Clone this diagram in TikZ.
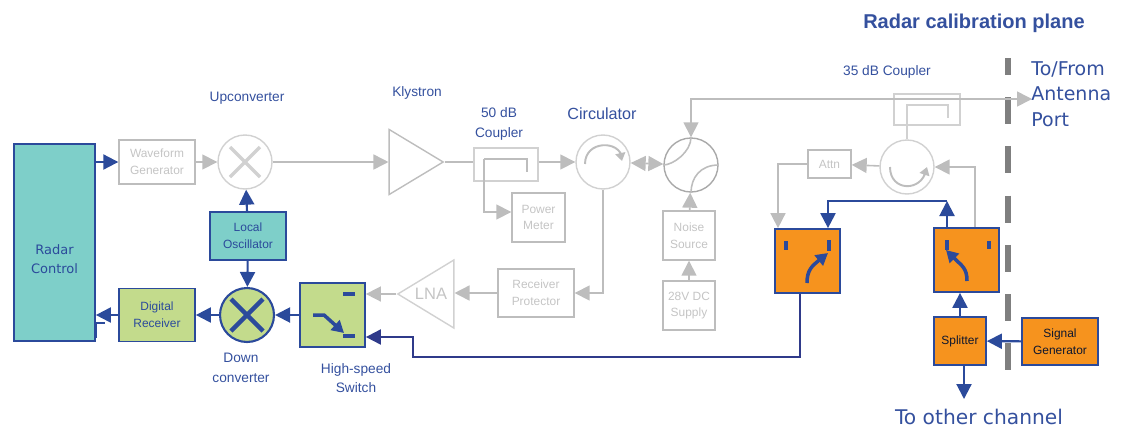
\documentclass[tikz,border=0pt]{standalone}
\usepackage{fontspec}
\setmainfont{Liberation Sans}
\newfontfamily\verafont{DejaVu Sans}
\usetikzlibrary{arrows.meta,positioning,shapes.geometric}
\definecolor{rblue}{HTML}{2B4A9B}
\definecolor{rnavy}{HTML}{2F3A8A}
\definecolor{rlabel}{HTML}{34509E}
\definecolor{rgrey}{HTML}{BDBDBD}
\definecolor{rtext}{HTML}{C4C4C4}
\definecolor{rteal}{HTML}{7ECFC9}
\definecolor{rgreen}{HTML}{C3DB8C}
\definecolor{rorange}{HTML}{F6931E}
\definecolor{rdash}{HTML}{7F7F7F}
\tikzset{
  >={Triangle[length=3mm,width=3mm]},
  gbox/.style={draw=rgrey, line width=0.8pt, text=rtext, font=\fontsize{6.8}{9.5}\selectfont,
               align=center, inner sep=0pt},
  cbox/.style={draw=rblue, line width=1pt, text=rblue, font=\fontsize{6.8}{9.5}\selectfont,
               align=center, inner sep=0pt},
  gcirc/.style={circle, draw=rgrey!70, line width=0.8pt, minimum size=10.8mm, inner sep=0pt},
  gline/.style={rgrey, line width=0.9pt},
  garr/.style={->, rgrey, line width=0.9pt},
  barr/.style={->, rblue, line width=1.2pt},
  nline/.style={rnavy, line width=1.1pt},
  blade/.style={rblue, line width=2pt},
  rlbl/.style={text=rlabel, font=\fontsize{7.8}{11}\selectfont, align=center, inner sep=0pt},
  vlbl/.style={text=rlabel, font=\verafont\fontsize{10.8}{14.6}\selectfont, align=left, inner sep=0pt},
  swbox/.style={cbox, minimum width=13mm, minimum height=12.8mm},
}

\begin{document}
\begin{tikzpicture}[x=0.02cm,y=-0.02cm]
  \useasboundingbox (0,0) rectangle (1125,430);

  % plano de calibracao
  \coordinate (planetop) at (1008,58);
  \coordinate (planebot) at (1008,372);
  \draw[rdash, line width=1.2mm, dash pattern=on 5.4mm off 4.45mm, dash phase=2mm] (planetop) -- (planebot);

  % blocos de controle
  \node[cbox, fill=rteal, minimum width=16.2mm, minimum height=39.4mm,
        font=\verafont\fontsize{7.4}{10.5}\selectfont] (ctrl) at (54.5,242.5) {~\\[14.3pt]Radar\\Control};
  \node[gbox, minimum width=15.2mm, minimum height=8.8mm] (wave) at (157,162) {Waveform\\Generator};
  \node[cbox, fill=rteal, minimum width=15.2mm, minimum height=9.6mm] (lo) at (248,236) {Local\\Oscillator};
  \node[cbox, fill=rgreen, minimum width=15.2mm, minimum height=10.6mm] (digrx) at (157,315) {Digital\\Receiver};
  \node[swbox, fill=rgreen] (hsw) at (332.5,315) {};

  % misturadores
  \node[gcirc] (upmix) at (245,162) {};
  \node[gcirc, draw=rblue, line width=1.2pt, fill=rgreen] (dnmix) at (247,315) {};
  \draw[rgrey!70, line width=2pt] ([shift={(-15,-15)}]upmix.center) -- ([shift={(15,15)}]upmix.center);
  \draw[rgrey!70, line width=2pt] ([shift={(-15,15)}]upmix.center) -- ([shift={(15,-15)}]upmix.center);
  \draw[blade, line width=2.6pt] ([shift={(-16,-16)}]dnmix.center) -- ([shift={(16,16)}]dnmix.center);
  \draw[blade, line width=2.6pt] ([shift={(-16,16)}]dnmix.center) -- ([shift={(16,-16)}]dnmix.center);

  % amplificadores
  \node[isosceles triangle, isosceles triangle stretches, draw=rgrey, line width=0.8pt, inner sep=0pt,
        minimum width=13mm, minimum height=10.8mm, anchor=apex] (kly) at (445,162) {};
  \node[isosceles triangle, isosceles triangle stretches, shape border rotate=180, draw=rgrey!70, line width=0.8pt,
        inner sep=0pt, minimum width=13.6mm, minimum height=11.2mm, anchor=apex, text=rtext,
        font=\fontsize{9}{9}\selectfont] (lna) at (396,294) {};
  \node[text=rtext, font=\fontsize{9.4}{9}\selectfont, inner sep=0pt] (lnatxt) at (431,294) {LNA};

  % blocos cinza
  \node[gbox, draw=rgrey!70, minimum width=12.8mm, minimum height=6.6mm] (cpl50) at (506,164.5) {};
  \node[gbox, minimum width=10.6mm, minimum height=9.8mm] (pwr) at (538.5,217.5) {Power\\Meter};
  \node[gcirc] (circ) at (603,162) {};
  \node[gcirc, draw=rgrey!130] (hyb) at (691,165) {};
  \node[gbox, minimum width=10.4mm, minimum height=9.8mm] (noise) at (689,235.5) {Noise\\Source};
  \node[gbox, minimum width=10.4mm, minimum height=9.8mm] (supply) at (689,305.5) {28V DC\\Supply};
  \node[gbox, minimum width=15.2mm, minimum height=9.6mm] (prot) at (536,293) {Receiver\\Protector};
  \node[gbox, draw=rgrey!70, minimum width=13.2mm, minimum height=6.2mm] (cpl35) at (927,109.5) {};
  \node[gcirc] (circb) at (907,167) {};
  \node[gbox, minimum width=8.6mm, minimum height=5.6mm] (attn) at (829.5,164) {Attn};

  % chaves e fonte de teste
  \node[swbox, fill=rorange] (swl) at (807.5,261) {};
  \node[swbox, fill=rorange] (swr) at (966.5,260) {};
  \node[cbox, fill=rorange, text=black!70!rblue, minimum width=10.4mm, minimum height=9.6mm] (split) at (960,341) {Splitter};
  \node[cbox, fill=rorange, text=black!70!rblue, minimum width=15.2mm, minimum height=9.4mm] (siggen) at (1060,341.5) {Signal\\Generator};

  % pontos livres
  \coordinate (antport) at (1032,99);
  \coordinate (otherch) at (964,399);

  % ligacoes cinza
  \draw[garr] (wave) -- (upmix);
  \draw[garr] (upmix) -- (kly.lower side);
  \draw[gline] (kly.apex) -- (cpl50.west |- kly.apex);
  \draw[garr] (cpl50.east |- circ) -- (circ);
  \draw[garr] (484,159) -- (484,212) -- (pwr.west |- 484,212);
  \draw[gline] (484,159) -- (527,159) -- (527,172);
  \draw[<->, rgrey, line width=0.9pt] (circ) -- (hyb);
  \draw[garr] (circ.south) |- (prot);
  \draw[garr] (prot) -- (lna.lower side |- prot);
  \draw[garr] (lna.apex) -- (hsw.east |- lna.apex);
  \draw[garr] (supply) -- (noise);
  \draw[garr] (noise) -- (hyb);
  \draw[<->, rgrey, line width=0.9pt] (hyb.north) |- (antport);
  \draw[gline] (hyb.west) .. controls (673,165) and (691,152) .. (hyb.north);
  \draw[gline] (hyb.east) .. controls (700,165) and (691,178) .. (hyb.south);
  \draw[gline, rgrey!70] (circb.north) -- (907,105) -- (948,105) -- (948,118);
  \draw[garr] (circb) -- (attn);
  \draw[garr] (attn.west) -| (swl.north -| 778,0);
  \draw[garr] (swr.north -| 975,0) |- (circb);
  \draw[gline, line width=1.1pt] (585,164) .. controls (585,140) and (620,140) .. (622,158);
  \draw[garr, line width=1.1pt, >={Triangle[length=1.6mm,width=2mm]}] (620,152) -- (622,161);
  \draw[gline, line width=1.1pt] (890,167) .. controls (890,192) and (922,192) .. (926,170);
  \draw[garr, line width=1.1pt, >={Triangle[length=1.6mm,width=2mm]}] (924,176) -- (927,167);

  % ligacoes azuis
  \draw[barr] (ctrl.east |- wave) -- (wave);
  \draw[barr] (lo) -- (upmix);
  \draw[barr] (lo) -- (dnmix);
  \draw[barr] (dnmix) -- (digrx);
  \draw[barr] (digrx) -- (ctrl.east |- digrx);
  \draw[rblue, line width=1pt] (96,338) -- (96,323) -- (105,323);
  \draw[barr] (hsw) -- (dnmix);
  \draw[nline, ->] (swl.south -| 800,0) |- (413,357) -- (413,337) -- (hsw.east |- 413,337);
  \draw[barr] (swr.north -| 947,0) -- (947,201);
  \draw[barr] (947,201) -| (swl.north -| 828,0);
  \draw[barr] (split.north -| 960,0) -- (swr.south -| 960,0);
  \draw[barr] (siggen) -- (split);
  \draw[barr] (split.south -| 964,0) -- (otherch);

  % simbolos das chaves
  \draw[blade, line width=2.2pt] (343,294) -- (355,294);
  \draw[blade, line width=2.2pt] (343,336) -- (355,336);
  \draw[blade, ->, >={Triangle[length=2.4mm,width=2.6mm]}] (313,315) -- (324,315) -- (344,333);
  \draw[blade, line width=2.4pt] (786,241) -- (786,250);
  \draw[blade, line width=2.4pt] (829,240) -- (829,251);
  \draw[blade, ->, >={Triangle[length=2.4mm,width=2.6mm]}] (807,283) .. controls (807,270) and (812,266) .. (828,253);
  \draw[blade, line width=2.4pt] (947,240) -- (947,250);
  \draw[blade, line width=2.4pt] (989,241) -- (989,249);
  \draw[blade, ->, >={Triangle[length=2.4mm,width=2.6mm]}] (967,281) .. controls (967,268) and (962,266) .. (946,250);

  % rotulos
  \node[rlbl] (uplbl) at (247,98) {Upconverter};
  \node[rlbl] (klylbl) at (417,93) {Klystron};
  \node[rlbl] (cpl50lbl) at (499,124) {50 dB\\Coupler};
  \node[rlbl, font=\fontsize{9.2}{11}\selectfont] (circlbl) at (602,114) {Circulator};
  \node[rlbl] (cpl35lbl) at (887,72) {35 dB Coupler};
  \node[rlbl] (dnlbl) at (241,368) {Down\\converter};
  \node[rlbl] (hswlbl) at (356,378) {High-speed\\Switch};
  \node[rlbl, font=\bfseries\fontsize{11.4}{13}\selectfont] (planelbl) at (974,23) {Radar calibration plane};
  \node[vlbl, anchor=north west] (antlbl) at (1031,61) {To/From\\Antenna\\Port};
  \node[vlbl, font=\verafont\fontsize{11.5}{14}\selectfont] (otherlbl) at (979,417) {To other channel};

\end{tikzpicture}
\end{document}
